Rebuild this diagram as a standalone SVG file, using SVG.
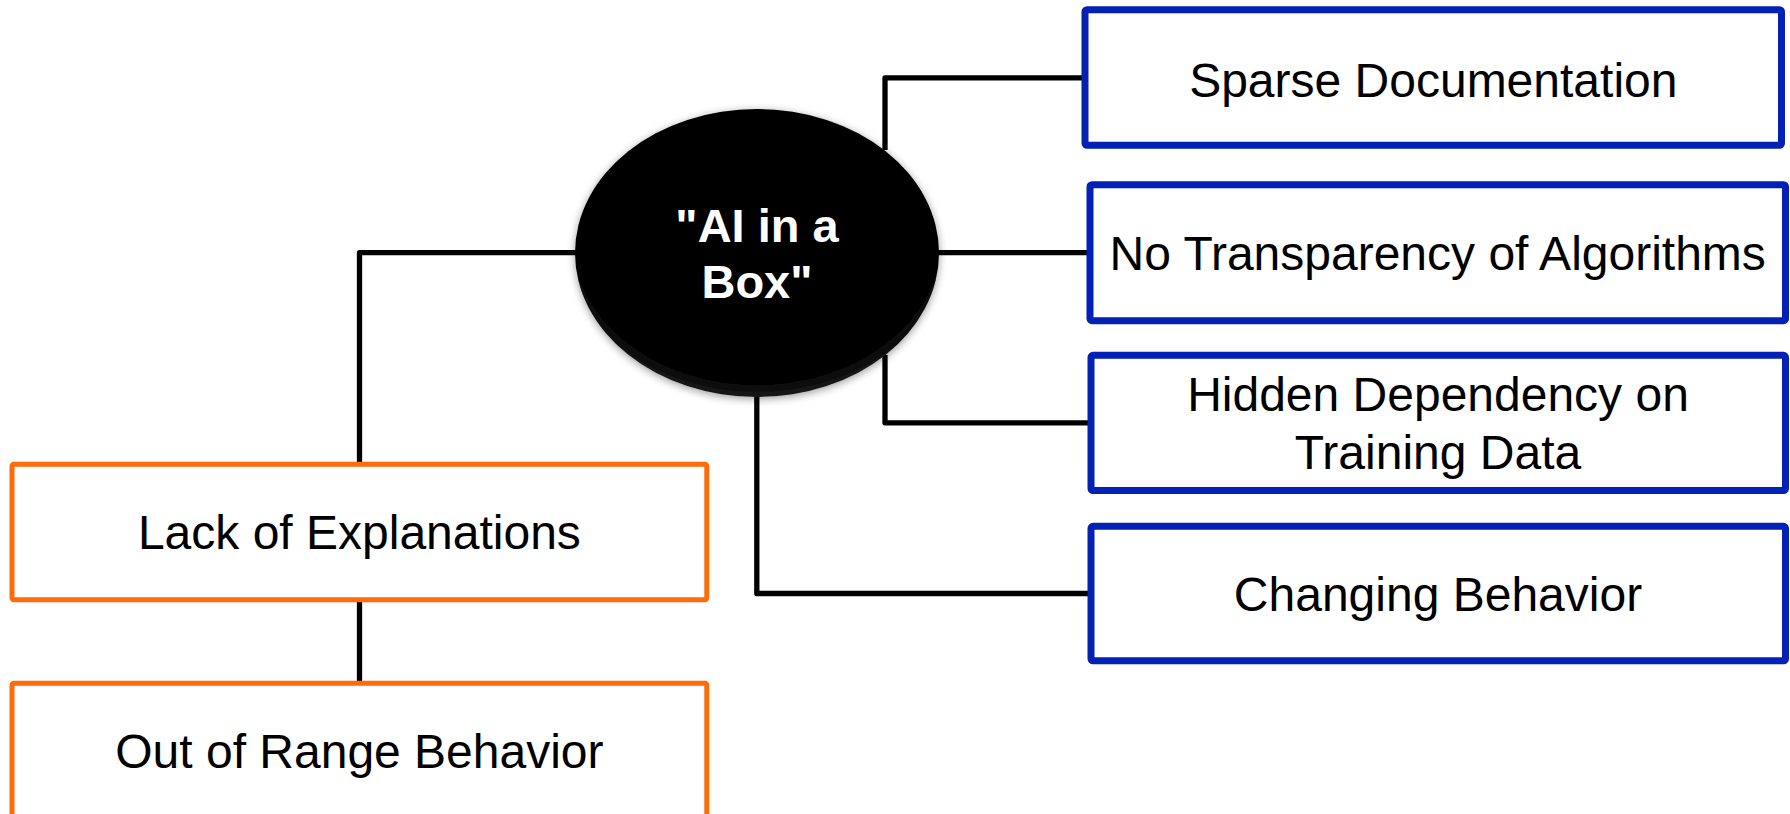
<svg xmlns="http://www.w3.org/2000/svg" width="1790" height="814" viewBox="0 0 1790 814">
  <style>
    .blue { fill: #ffffff; stroke: #0421B5; stroke-width: 7; stroke-linejoin: round; }
    .orange { fill: #ffffff; stroke: #FF6A0A; stroke-width: 5; stroke-linejoin: round; }
    .conn { fill: none; stroke: #000000; stroke-width: 5.3; stroke-linejoin: round; }
    .lbl { font-family: "Liberation Sans", Arial, sans-serif; font-size: 48px; fill: #000000; text-anchor: middle; }
    .hub { font-family: "Liberation Sans", Arial, sans-serif; font-size: 47px; font-weight: bold; fill: #ffffff; text-anchor: middle; }
  </style>
  <defs>
    <filter id="shadow" x="-10%" y="-10%" width="120%" height="125%">
      <feGaussianBlur in="SourceAlpha" stdDeviation="4"/>
      <feOffset dx="0" dy="2" result="b"/>
      <feComponentTransfer><feFuncA type="linear" slope="0.4"/></feComponentTransfer>
      <feMerge><feMergeNode/><feMergeNode in="SourceGraphic"/></feMerge>
    </filter>
    <radialGradient id="hubfill" cx="50%" cy="45%" r="55%">
      <stop offset="0.9" stop-color="#000000"/>
      <stop offset="1" stop-color="#1a1a1a"/>
    </radialGradient>
  </defs>
  <rect width="1790" height="814" fill="#ffffff"/>

  <g id="connectors">
    <polyline class="conn" points="885,150 885,77.8 1086,77.8"/>
    <line class="conn" x1="935" y1="252.7" x2="1090" y2="252.7"/>
    <polyline class="conn" points="885,355 885,422.8 1091,422.8"/>
    <polyline class="conn" points="756.8,392 756.8,593.5 1091,593.5"/>
    <polyline class="conn" points="580,252.7 359.5,252.7 359.5,464"/>
    <line class="conn" x1="359.5" y1="600" x2="359.5" y2="683"/>
  </g>

  <g id="hub">
    <ellipse cx="757" cy="253" rx="182" ry="144" fill="url(#hubfill)" filter="url(#shadow)"/>
    <text class="hub" x="757" y="241.7">"AI in a</text>
    <text class="hub" x="757" y="298.3">Box"</text>
  </g>

  <g id="sparse-documentation">
    <rect class="blue" x="1085" y="9.7" width="696.5" height="135.6" rx="2"/>
    <text class="lbl" x="1433.3" y="97">Sparse Documentation</text>
  </g>

  <g id="no-transparency">
    <rect class="blue" x="1090" y="184.7" width="695.5" height="136" rx="2"/>
    <text class="lbl" x="1437.7" y="270">No Transparency of Algorithms</text>
  </g>

  <g id="hidden-dependency">
    <rect class="blue" x="1091" y="355.3" width="694.5" height="135.2" rx="2"/>
    <text class="lbl" x="1438" y="411">Hidden Dependency on</text>
    <text class="lbl" x="1438" y="469">Training Data</text>
  </g>

  <g id="changing-behavior">
    <rect class="blue" x="1091" y="526.3" width="694.5" height="134.5" rx="2"/>
    <text class="lbl" x="1438" y="610.7">Changing Behavior</text>
  </g>

  <g id="lack-of-explanations">
    <rect class="orange" x="12" y="464.2" width="694.8" height="135.6" rx="2"/>
    <text class="lbl" x="359.4" y="549.3">Lack of Explanations</text>
  </g>

  <g id="out-of-range">
    <rect class="orange" x="12" y="683.2" width="694.8" height="136" rx="2"/>
    <text class="lbl" x="359.4" y="768.3">Out of Range Behavior</text>
  </g>
</svg>
